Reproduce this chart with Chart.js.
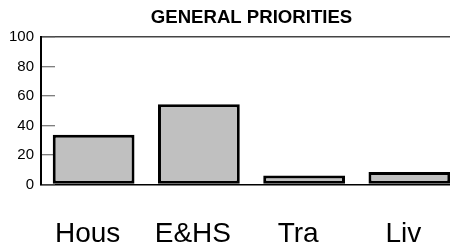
<!DOCTYPE html>
<html>
<head>
<meta charset="utf-8">
<script src="https://cdn.jsdelivr.net/npm/chart.js@4"></script>
<style>
html,body{margin:0;padding:0;overflow:hidden;background:#fff;}
#wrap{width:462px;height:248px;position:relative;}
</style>
</head>
<body>
<div id="wrap"><canvas id="c"></canvas></div>
<script>
const categories = ["Hous", "E&HS", "Tra", "Liv"];
const values = [33.8, 54.4, 6.1, 8.4];
const yTicks = [0, 20, 40, 60, 80, 100];
const titleText = "GENERAL PRIORITIES";

new Chart(document.getElementById('c'), {
  type: 'bar',
  data: {
    labels: categories,
    datasets: [{
      data: values,
      backgroundColor: '#c0c0c0',
      borderColor: '#000',
      borderWidth: 3,
      borderSkipped: false,
      barPercentage: 0.777,
      categoryPercentage: 1
    }]
  },
  options: {
    responsive: true,
    maintainAspectRatio: false,
    animation: false,
    devicePixelRatio: 1,
    layout: { padding: 0 },
    plugins: {
      legend: { display: false },
      tooltip: { enabled: false },
      title: {
        display: true,
        fullSize: false,
        text: titleText,
        color: '#000',
        font: { family: 'Liberation Sans', size: 18.6, weight: 'bold' },
        padding: { top: 7, bottom: 7.7 }
      }
    },
    scales: {
      x: {
        grid: { display: false },
        border: { display: false },
        ticks: {
          color: '#000',
          font: { family: 'Liberation Sans', size: 28 },
          padding: 25,
          labelOffset: -6,
          maxRotation: 0
        },
        afterFit: s => { s.height = 63.5; }
      },
      y: {
        min: 0,
        max: 100,
        afterBuildTicks: s => { s.ticks = yTicks.map(v => ({ value: v })); },
        grid: {
          drawOnChartArea: true,
          color: ctx => ctx.tick && ctx.tick.value === 100 ? '#444' : (ctx.tick && ctx.tick.value === 0 ? '#000' : 'rgba(0,0,0,0)'),
          lineWidth: 1.5,
          tickLength: -14,
          tickColor: '#555',
          tickWidth: 1
        },
        border: { display: true, color: '#000', width: 2 },
        ticks: {
          color: '#000',
          font: { family: 'Liberation Sans', size: 15 },
          padding: 21
        },
        afterFit: s => { s.width = 41; }
      }
    }
  }
});
</script>
</body>
</html>
